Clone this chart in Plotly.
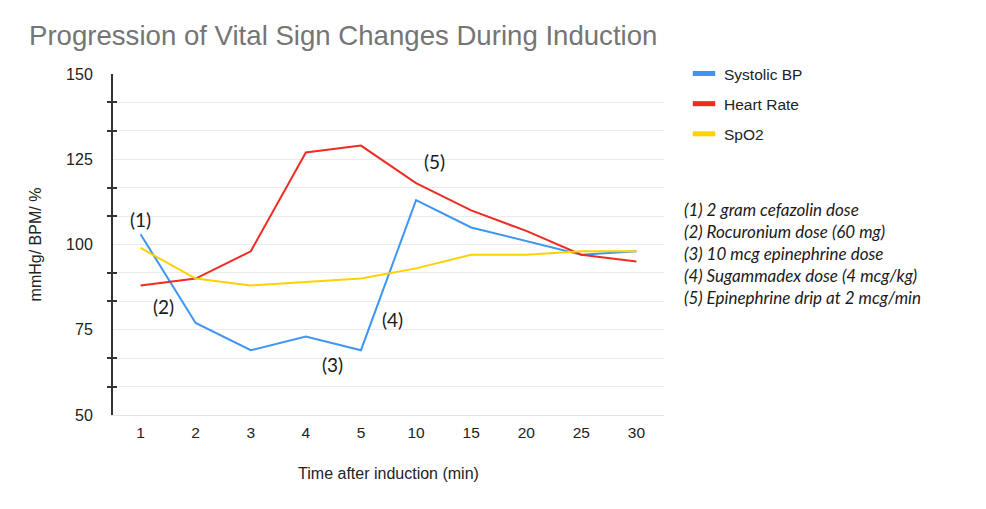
import plotly.graph_objects as go

times = ["1", "2", "3", "4", "5", "10", "15", "20", "25", "30"]
systolic_bp = [103, 77, 69, 73, 69, 113, 105, 101, 97, 98]
heart_rate = [88, 90, 98, 127, 129, 118, 110, 104, 97, 95]
spo2 = [99, 90, 88, 89, 90, 93, 97, 97, 98, 98]

series_names = ["Systolic BP", "Heart Rate", "SpO2"]
series_colors = ["#3f96f2", "#ef2b22", "#fcd200"]

# event markers: label, x (category index), y (value)
event_labels = ["(1)", "(2)", "(3)", "(4)", "(5)"]
event_x = [0.0, 0.42, 3.48, 4.57, 5.33]
event_y = [107.2, 81.7, 64.7, 77.9, 124.2]

notes = [
    "(1) 2 gram cefazolin dose",
    "(2) Rocuronium dose (60 mg)",
    "(3) 10 mcg epinephrine dose",
    "(4) Sugammadex dose (4 mcg/kg)",
    "(5) Epinephrine drip at 2 mcg/min",
]

title_text = "Progression of Vital Sign Changes During Induction"
x_title = "Time after induction (min)"
y_title = "mmHg/ BPM/ %"

minor_vals = [58.333, 66.667, 83.333, 91.667, 108.333, 116.667, 133.333, 141.667]

fig = go.Figure()
for name, vals, col in zip(series_names, [systolic_bp, heart_rate, spo2], series_colors):
    fig.add_trace(go.Scatter(x=times, y=vals, mode="lines", name=name,
                             line=dict(color=col, width=2), showlegend=False,
                             hoverinfo="x+y+name"))
# legend entries (short thick bar symbols)
for i, (name, col) in enumerate(zip(series_names, series_colors)):
    fig.add_trace(go.Scatter(x=[None], y=[None], mode="markers", name=name,
                             legendgroup=f"g{i}",
                             marker=dict(symbol="line-ew", size=16,
                                         line=dict(color=col, width=5))))
# dummy trace for overlay axis carrying inner half of the crossing ticks
fig.add_trace(go.Scatter(x=[None], y=[None], yaxis="y2", showlegend=False, hoverinfo="skip"))

pl, pr, pt, pb = 113, 322, 74, 94
pw, ph = 986 - pl - pr, 509 - pt - pb

annos = []
for lab, ex, ey in zip(event_labels, event_x, event_y):
    annos.append(dict(x=ex, y=ey, xref="x", yref="y", text=lab, showarrow=False,
                      font=dict(family="Lato", size=19, color="#1a1a1a"),
                      xanchor="center", yanchor="middle"))
annos.append(dict(x=(682 - pl) / pw, y=1 - (253 - pt) / ph, xref="paper", yref="paper",
                  text="<br>".join(notes), showarrow=False, align="left",
                  xanchor="left", yanchor="middle",
                  font=dict(family="Lato", size=17, color="#1a1a1a", style="italic")))

fig.update_layout(
    width=986, height=509,
    margin=dict(l=pl, r=pr, t=pt, b=pb),
    paper_bgcolor="white", plot_bgcolor="white",
    font=dict(family="Liberation Sans, Arial", size=15, color="#222222"),
    title=dict(text=title_text, x=29 / 986, xanchor="left", xref="container",
               y=1 - 35 / 509, yanchor="middle", yref="container",
               font=dict(family="Liberation Sans, Arial", size=27.6, color="#757575")),
    xaxis=dict(type="category", categoryorder="array", categoryarray=times,
               range=[-0.5, 9.5],
               showgrid=False, showline=True, linecolor="#e3e3e3", linewidth=1,
               ticks="", ticklabelstandoff=3, tickfont=dict(size=15.5, color="#222222"),
               title=dict(text=x_title, font=dict(size=16, color="#222222"), standoff=28),
               fixedrange=True),
    yaxis=dict(range=[50, 150], tickvals=[50, 75, 100, 125, 150], showgrid=True,
               gridcolor="#ebebeb", gridwidth=1, zeroline=False,
               showline=True, linecolor="#333333", linewidth=2,
               ticks="", ticklabelstandoff=15,
               minor=dict(tickvals=minor_vals,
                          showgrid=True, gridcolor="#ebebeb", gridwidth=1,
                          ticks="outside", ticklen=4, tickcolor="#333333", tickwidth=1.5),
               tickfont=dict(size=16, color="#222222"),
               title=dict(text=y_title, font=dict(size=16, color="#222222"), standoff=20),
               fixedrange=True),
    yaxis2=dict(range=[50, 150], overlaying="y", side="left", showgrid=False,
                showticklabels=False, showline=False, zeroline=False, ticks="",
                minor=dict(tickvals=minor_vals,
                           showgrid=False, ticks="inside", ticklen=4,
                           tickcolor="#333333", tickwidth=1.5),
                fixedrange=True),
    legend=dict(x=(684 - pl) / pw, y=1.05, xanchor="left", yanchor="top",
                font=dict(size=15.5, color="#222222"), tracegroupgap=7,
                traceorder="grouped", bgcolor="rgba(0,0,0,0)"),
    annotations=annos,
    showlegend=True,
)

fig.write_html("out.html")
